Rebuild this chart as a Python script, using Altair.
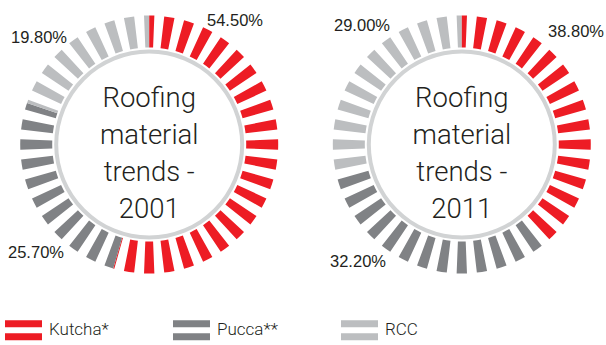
import altair as alt
import pandas as pd

# ---------------- data ----------------
categories = ["Kutcha*", "Pucca**", "RCC"]
share_2001 = [54.5, 25.7, 19.8]
share_2011 = [38.8, 32.2, 29.0]
labels_2001 = ["54.50%", "25.70%", "19.80%"]
labels_2011 = ["38.80%", "32.20%", "29.00%"]
title_2001 = ["Roofing", "material", "trends -", "2001"]
title_2011 = ["Roofing", "material", "trends -", "2011"]

# ---------------- style / layout ----------------
colors = ["#ED1C24", "#808285", "#BCBEC0"]
RING = "#D1D3D4"
INK = "#231F20"
LIGHT = "Roboto, Liberation Sans, sans-serif"
REG = "Liberation Sans, Arial, sans-serif"
N_TICKS = 40
TICK_DEG = 4.6
R_IN, R_OUT = 97, 129
CENTERS = {"2001": (149.2, 144.5), "2011": (461.8, 144.5)}
# label anchor positions (annotation layout), in category order
LABEL_POS = {
    "2001": [(235, 21), (36, 253), (39, 37.5)],
    "2011": [(576, 32), (358, 261.5), (362, 26)],
}
BAR_PATH = "M-1,-0.54H1V-0.16H-1Z M-1,0.16H1V0.54H-1Z"


def tick_pieces(shares):
    bounds, acc = [], 0.0
    for cat, s in zip(categories, shares):
        a0 = acc * 3.6
        acc += s
        bounds.append((cat, a0, acc * 3.6))
    rows = []
    for k in range(N_TICKS):
        c = k * 360.0 / N_TICKS
        lo, hi = c - TICK_DEG / 2, c + TICK_DEG / 2
        spans = [(lo, hi)] if lo >= 0 else [(lo + 360, 360.0), (0.0, hi)]
        for s0, s1 in spans:
            for cat, a0, a1 in bounds:
                u0, u1 = max(s0, a0), min(s1, a1)
                if u1 > u0 + 1e-9:
                    rows.append({"tick": k, "category": cat, "t0": u0, "t1": u1})
    return pd.DataFrame(rows)


theta_scale = alt.Scale(domain=[0, 360], range=[0, 6.283185307179586])
color_enc = alt.Color(
    "category:N",
    scale=alt.Scale(domain=categories, range=colors),
    legend=alt.Legend(
        title=None,
        orient="none",
        legendX=5,
        legendY=311.5,
        direction="horizontal",
        columns=3,
        gridAlign="all",
        columnPadding=63,
        symbolType=BAR_PATH,
        symbolSize=1369,
        symbolStrokeWidth=0,
        symbolOpacity=1,
        labelFont=LIGHT,
        labelFontWeight=300,
        labelFontSize=17,
        labelColor=INK,
        labelOffset=7,
        labelLimit=300,
        padding=0,
    ),
)

layers = []
for year, shares, labels, title in [
    ("2001", share_2001, labels_2001, title_2001),
    ("2011", share_2011, labels_2011, title_2011),
]:
    cx, cy = CENTERS[year]
    ring = alt.Chart(pd.DataFrame({"a": [0]})).mark_arc(
        theta=0, theta2=6.283185307179586, radius=95, radius2=91, color=RING
    ).encode(x=alt.value(cx), y=alt.value(cy))
    ticks = alt.Chart(tick_pieces(shares)).mark_arc(
        radius=R_OUT, radius2=R_IN, stroke=None
    ).encode(
        x=alt.value(cx),
        y=alt.value(cy),
        theta=alt.Theta("t0:Q", scale=theta_scale, stack=False),
        theta2="t1:Q",
        color=color_enc,
    )
    center_text = alt.Chart(pd.DataFrame({"a": [0]})).mark_text(
        text=title, font=LIGHT, fontWeight=300, fontSize=27.5, lineHeight=37,
        color=INK, align="center", baseline="alphabetic",
    ).encode(x=alt.value(cx), y=alt.value(107))
    layers += [ring, ticks, center_text]
    for lab, (lx, ly) in zip(labels, LABEL_POS[year]):
        layers.append(
            alt.Chart(pd.DataFrame({"label": [lab]})).mark_text(
                font=REG, fontSize=16.5, color=INK, align="center", baseline="middle"
            ).encode(x=alt.value(lx), y=alt.value(ly), text="label:N")
        )

chart = alt.layer(*layers).properties(
    width=606, height=345, padding=0, autosize="none"
).configure_view(stroke=None).resolve_scale(theta="shared")

chart.save("out.html", embed_options={"renderer": "svg", "actions": False})
